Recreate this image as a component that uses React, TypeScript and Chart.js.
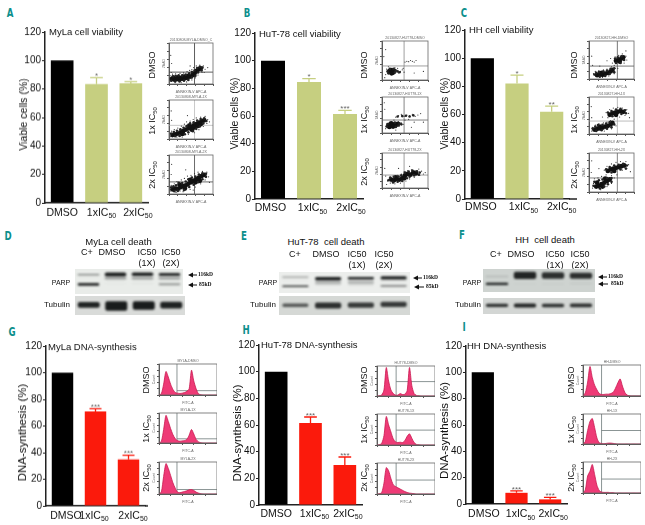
import React, { useEffect, useRef } from "react";
import { Chart, registerables } from "chart.js";
Chart.register(...registerables);

const SANS = '"Liberation Sans", Arial, sans-serif';

// ---------- bar chart data ----------
const treatments = ["DMSO", "1xIC", "2xIC"];
const treatmentSub = ["", "50", "50"];
const yTicks = [0, 20, 40, 60, 80, 100, 120];

const mylaViability = [100, 83.5, 84];
const mylaViabilityErr = [100, 88, 85.2];
const hutViability = [100, 84.5, 61.5];
const hutViabilityErr = [100, 87, 64];
const hhViability = [100, 82, 62];
const hhViabilityErr = [100, 88, 66];
const mylaSynthesis = [100, 71, 35];
const mylaSynthesisErr = [100, 73, 38];
const hutSynthesis = [100, 61.5, 30];
const hutSynthesisErr = [100, 66, 36];
const hhSynthesis = [100, 8.5, 3.5];
const hhSynthesisErr = [100, 10, 5];

const starsA = ["", "*", "*"];
const starsB = ["", "*", "***"];
const starsC = ["", "*", "**"];
const starsG = ["", "***", "***"];
const starsH = ["", "***", "***"];
const starsI = ["", "***", "***"];

// ---------- flow cytometry scatter data (percent of plot) ----------
type P = [number, number];
const a1Dense: P[] = [[6,12],[12,11],[18,12],[24,11],[30,13],[36,14],[42,15],[48,18],[54,22],[58,26],[63,32],[68,36],[72,38],[20,16],[34,18],[10,15],[27,15],[44,20]];
const a1Mid: P[] = [[5,8],[9,19],[15,20],[22,21],[30,21],[38,23],[46,26],[52,29],[58,33],[64,39],[70,42],[76,40],[74,33],[66,28],[60,20],[52,16],[44,10],[34,8],[24,6],[14,6]];
const a1Sparse: P[] = [[4,20],[8,24],[15,25],[25,26],[33,27],[41,30],[47,33],[52,35],[56,40],[62,44],[70,46],[78,44],[82,36],[75,28],[66,22],[60,15],[52,10],[40,5],[28,3],[14,3],[5,28],[6,50],[4,70],[48,44],[80,28],[88,40]];
const a2Dense: P[] = [[8,10],[14,12],[20,14],[26,17],[32,20],[38,24],[44,27],[50,31],[56,35],[62,38],[68,42],[74,45],[80,48],[58,30],[46,34],[66,34],[30,13],[52,24],[72,38]];
const a2Mid: P[] = [[5,14],[11,18],[18,21],[26,25],[33,29],[40,33],[48,40],[56,43],[64,47],[72,51],[80,53],[85,46],[78,40],[70,32],[62,26],[54,20],[44,17],[36,12],[24,8],[14,7]];
const a2Sparse: P[] = [[4,6],[6,20],[12,24],[20,28],[28,33],[35,38],[40,44],[48,46],[55,50],[62,54],[72,56],[82,58],[88,50],[86,40],[78,32],[68,24],[58,16],[44,12],[30,5],[18,5],[6,48],[5,72],[42,60],[26,8],[92,44]];
const a3Dense: P[] = [[8,12],[14,14],[20,13],[26,17],[32,20],[38,22],[44,26],[50,30],[56,34],[62,38],[68,42],[74,46],[80,49],[60,30],[48,36],[36,14],[70,34],[24,24]];
const a3Mid: P[] = [[5,17],[10,20],[16,22],[22,29],[30,28],[38,32],[44,38],[52,42],[60,45],[68,50],[76,53],[84,52],[84,44],[76,38],[66,30],[56,24],[46,18],[34,10],[20,8],[12,7]];
const a3Sparse: P[] = [[4,8],[5,22],[12,26],[18,32],[28,36],[35,40],[42,46],[50,48],[58,52],[66,56],[76,58],[86,56],[90,44],[82,36],[72,26],[60,18],[48,12],[32,6],[16,4],[5,50],[6,76],[38,62],[25,8],[55,10],[92,30]];
const b1Dense: P[] = [[18,20],[22,22],[20,25],[24,19],[16,23],[26,24],[21,17]];
const b1Mid: P[] = [[12,22],[14,17],[28,19],[30,24],[25,29],[17,29],[34,22],[38,20]];
const b1Sparse: P[] = [[8,14],[10,28],[12,18],[30,20],[33,25],[36,18],[40,22],[44,26],[48,20],[34,30],[28,32],[14,34],[50,46],[54,48],[58,47],[62,50],[66,48],[70,46],[74,50],[46,30],[6,6],[4,60],[8,78],[90,22],[70,18]];
const b2Dense: P[] = [[14,20],[18,24],[22,21],[26,24],[30,22],[20,27],[34,25],[16,17],[24,18]];
const b2Mid: P[] = [[10,18],[12,25],[28,29],[36,21],[38,27],[42,24],[30,17],[44,47],[52,48],[60,46],[68,49],[34,46]];
const b2Sparse: P[] = [[8,12],[10,24],[38,20],[42,28],[46,24],[36,32],[30,44],[36,48],[42,52],[48,46],[54,50],[60,48],[66,52],[72,46],[78,50],[84,54],[50,36],[58,38],[26,36],[6,66],[5,84],[70,30],[90,30],[64,16],[30,8]];
const b3Dense: P[] = [[20,24],[26,22],[32,26],[38,24],[44,28],[50,36],[56,40],[62,38],[68,44],[74,42],[30,30],[48,28]];
const b3Mid: P[] = [[14,22],[18,30],[26,32],[36,33],[42,36],[50,44],[58,47],[66,50],[76,48],[82,44],[80,38],[70,36],[60,32],[54,28],[44,20],[34,18],[24,16]];
const b3Sparse: P[] = [[12,20],[16,28],[24,34],[34,36],[42,40],[48,46],[56,50],[64,52],[72,50],[80,54],[86,48],[90,40],[82,36],[70,30],[60,26],[52,20],[40,14],[28,12],[18,14],[8,34],[6,56],[10,10],[36,56],[94,44],[60,62]];
const c1Dense: P[] = [[18,10],[24,12],[30,11],[36,14],[42,16],[48,20],[52,24],[28,16],[60,48],[66,50],[72,54],[76,57],[68,46]];
const c1Mid: P[] = [[12,12],[16,16],[22,18],[32,20],[40,22],[48,27],[56,28],[56,18],[46,13],[36,8],[24,6],[58,54],[64,57],[72,60],[78,50],[70,42],[60,42]];
const c1Sparse: P[] = [[10,14],[14,20],[22,22],[32,24],[40,26],[50,32],[56,36],[58,28],[52,42],[58,58],[66,62],[74,66],[82,60],[84,50],[78,42],[56,14],[44,8],[30,4],[8,36],[6,60],[40,48],[48,54],[24,34],[64,28],[82,74]];
const c2Dense: P[] = [[12,12],[18,14],[24,15],[30,17],[36,20],[42,22],[48,26],[52,30],[46,52],[52,56],[58,58],[64,60],[70,62],[76,60],[60,52],[24,20]];
const c2Mid: P[] = [[8,15],[14,20],[20,24],[30,25],[38,28],[46,32],[56,26],[50,18],[40,14],[28,10],[16,8],[42,58],[50,62],[60,66],[70,68],[80,64],[82,56],[72,54],[52,48]];
const c2Sparse: P[] = [[6,8],[8,18],[14,24],[22,28],[32,30],[40,32],[48,36],[56,40],[42,44],[38,58],[46,66],[54,70],[64,72],[74,70],[84,66],[88,56],[80,50],[68,46],[60,22],[50,14],[34,8],[6,44],[5,74],[30,46],[90,44]];
const c3Dense: P[] = [[16,14],[22,16],[28,20],[34,24],[40,28],[46,32],[18,24],[30,14],[42,54],[48,58],[54,60],[60,62],[66,64],[72,66],[78,68],[56,54],[36,34]];
const c3Mid: P[] = [[10,16],[12,26],[22,30],[30,32],[40,36],[50,36],[50,26],[42,20],[34,14],[24,9],[38,58],[46,64],[56,68],[66,70],[76,72],[84,68],[82,60],[70,58],[50,50]];
const c3Sparse: P[] = [[8,10],[10,22],[12,34],[20,36],[28,40],[38,44],[50,42],[56,36],[34,56],[40,66],[50,72],[60,76],[70,78],[82,78],[88,70],[84,60],[74,56],[62,44],[50,22],[40,14],[26,6],[5,50],[6,80],[22,60],[92,52]];

// gates: vertical x, horizontal y (percent)
const scatterGatesA: P[] = [[58,29],[58,35],[58,31]];
const scatterGatesB: P[] = [[48,36],[48,36],[48,37]];
const scatterGatesC: P[] = [[63,34],[63,35],[63,36]];

// ---------- DNA histograms (percent of plot height per bin) ----------
const bins = [0,4,8,12,16,20,24,28,32,36,40,44,48,52,56,60,64,68,72,76,80,84,88,92,96,100];
const g1Hist = [0,4,35,76,58,35,18,8,6,5,6,8,12,20,80,45,20,4,1,0,0,0,0,0,0,0];
const g2Hist = [0,5,45,92,72,48,28,14,8,6,7,8,12,26,45,30,12,4,1,0,0,0,0,0,0,0];
const g3Hist = [0,6,55,95,80,58,35,18,6,4,6,8,10,13,14,11,6,3,1,0,0,0,0,0,0,0];
const h1Hist = [0,1,3,20,95,50,20,8,3,3,8,5,6,18,95,35,8,2,1,0,0,0,0,0,0,0];
const h2Hist = [0,1,5,30,92,65,42,20,10,8,9,8,14,28,36,22,8,2,1,0,0,0,0,0,0,0];
const h3Hist = [0,1,4,35,85,75,50,30,24,20,16,12,8,5,3,2,1,0,0,0,0,0,0,0,0,0];
const i1Hist = [0,10,45,95,60,35,20,8,5,5,6,6,8,12,25,42,55,32,12,3,1,0,0,0,0,0];
const i2Hist = [0,8,45,75,85,55,20,4,2,1,2,3,3,2,1,0,0,0,0,0,0,0,0,0,0,0];
const i3Hist = [0,10,55,70,92,60,25,8,3,2,2,2,1,1,0,0,0,0,0,0,0,0,0,0,0,0];
const histGatesG: P[] = [[31,14],[31,14],[31,14]];
const histGatesH: P[] = [[33,48],[33,48],[33,45]];
const histGatesI: P[] = [[32,0],[32,45],[32,45]];

// ---------- western blot data (band edges, percent of image height) ----------
const lanes = ["C+", "DMSO", "IC50 (1X)", "IC50 (2X)"];
type B = [number, number];
const dUpper: B[] = [[20,25],[14,30],[14,28],[16,28]];
const dUpperAlpha = [0.55, 0.95, 0.95, 0.9];
const dSmear: B[] = [[34,36],[32,42],[32,42],[32,42]];
const dSmearAlpha = [0.05, 0.35, 0.35, 0.35];
const dLower: B[] = [[56,67],[58,60],[58,60],[57,65]];
const dLowerAlpha = [0.9, 0.06, 0.1, 0.4];
const dTub: B[] = [[32,62],[28,78],[28,72],[30,66]];
const dTubAlpha = [0.92, 0.95, 0.95, 0.92];
const eUpper: B[] = [[22,27],[24,40],[24,36],[20,36]];
const eUpperAlpha = [0.4, 0.95, 0.95, 0.95];
const eSmear: B[] = [[40,42],[42,60],[42,58],[42,46]];
const eSmearAlpha = [0.15, 0.25, 0.25, 0.1];
const eLower: B[] = [[64,72],[64,66],[64,67],[62,70]];
const eLowerAlpha = [0.85, 0.08, 0.12, 0.5];
const eTub: B[] = [[40,58],[34,66],[34,62],[30,58]];
const eTubAlpha = [0.65, 0.85, 0.8, 0.8];
const fUpper: B[] = [[30,34],[12,44],[14,42],[16,42]];
const fUpperAlpha = [0.25, 0.9, 0.85, 0.85];
const fLower: B[] = [[60,70],[64,66],[64,66],[62,65]];
const fLowerAlpha = [0.95, 0.06, 0.08, 0.1];
const fTub: B[] = [[36,56],[34,60],[36,58],[34,58]];
const fTubAlpha = [0.85, 0.9, 0.85, 0.85];

// ---------- generic canvas host ----------
function ChartBox({ left, top, width, height, config }: any) {
  const ref = useRef<HTMLCanvasElement>(null);
  useEffect(() => {
    const chart = new Chart(ref.current!, config());
    return () => chart.destroy();
  }, []);
  return (
    <canvas
      ref={ref}
      width={width}
      height={height}
      style={{ position: "absolute", left, top, width, height, display: "block" }}
    />
  );
}

// ---------- bar panels ----------
const OLIVE = "#c6cf80";
const RED = "#fb1a0c";
type BarSpec = {
  axisX: number; y0: number; y120: number; endX: number; extendTo?: number; barFrac: number;
  values: number[]; err: number[]; stars: string[]; color: string;
  title: string; titleX: number; titleY: number;
  yTitle: string; yTitleX: number; yTitleY: number; yTitleSize: number;
  labelY: number; labelShift: number[];
};
function BarPanel({ s }: { s: BarSpec }) {
  const W = 44, T = 8, X = 26, R = 24;
  const left = s.axisX - W;
  const top = s.y120 - T;
  const width = s.endX + R - left;
  const height = s.y0 + X - top;
  const config = () => ({
    type: "bar",
    data: {
      labels: treatments,
      datasets: [{
        data: s.values,
        backgroundColor: ["#000000", s.color, s.color],
        barPercentage: s.barFrac,
        categoryPercentage: 1,
      }],
    },
    options: {
      animation: false, responsive: false, devicePixelRatio: 1,
      layout: { padding: { top: T, left: 0, right: R, bottom: 0 } },
      plugins: { legend: { display: false }, tooltip: { enabled: false } },
      scales: {
        x: {
          grid: { display: false },
          border: { color: "#222", width: 1.5 },
          ticks: { display: false },
          afterFit: (sc: any) => { sc.height = X; },
        },
        y: {
          min: 0, max: 120,
          afterBuildTicks: (sc: any) => { sc.ticks = yTicks.map((v) => ({ value: v })); },
          grid: { drawOnChartArea: false, drawTicks: true, tickLength: 3, color: "#222" },
          border: { color: "#222", width: 1.5 },
          ticks: { color: "#111", padding: 1, font: { family: SANS, size: 10 } },
          afterFit: (sc: any) => { sc.width = W; },
        },
      },
    },
    plugins: [{
      id: "panelMarks",
      afterDatasetsDraw(chart: any) {
        const { ctx, scales } = chart;
        const meta = chart.getDatasetMeta(0);
        s.err.forEach((e, i) => {
          if (e <= s.values[i]) return;
          const x = scales.x.getPixelForValue(i);
          const yTop = scales.y.getPixelForValue(e);
          const yBar = scales.y.getPixelForValue(s.values[i]);
          const half = meta.data[i].width * 0.28;
          ctx.save();
          ctx.strokeStyle = s.color;
          ctx.lineWidth = 1.3;
          ctx.beginPath();
          ctx.moveTo(x, yBar); ctx.lineTo(x, yTop);
          ctx.moveTo(x - half, yTop); ctx.lineTo(x + half, yTop);
          ctx.stroke();
          ctx.fillStyle = "#666";
          ctx.font = `8px ${SANS}`;
          ctx.textAlign = "center";
          ctx.textBaseline = "middle";
          ctx.fillText(s.stars[i], x, yTop - 1.5);
          ctx.restore();
        });
      },
      afterDraw(chart: any) {
        const { ctx, scales, chartArea } = chart;
        ctx.save();
        if (s.extendTo) {
          ctx.strokeStyle = "#222";
          ctx.lineWidth = 1.5;
          ctx.beginPath();
          ctx.moveTo(chartArea.right, chartArea.bottom);
          ctx.lineTo(s.extendTo - left, chartArea.bottom);
          ctx.stroke();
        }
        ctx.fillStyle = "#111";
        ctx.textBaseline = "middle";
        ctx.font = `9.5px ${SANS}`;
        ctx.textAlign = "left";
        ctx.fillText(s.title, s.titleX - left, s.titleY - top);
        // category labels with subscripts
        treatments.forEach((t, i) => {
          const cx = scales.x.getPixelForValue(i) + s.labelShift[i];
          ctx.font = `10.5px ${SANS}`;
          const w1 = ctx.measureText(t).width;
          ctx.font = `7px ${SANS}`;
          const w2 = ctx.measureText(treatmentSub[i]).width;
          const x0 = cx - (w1 + w2) / 2;
          ctx.font = `10.5px ${SANS}`;
          ctx.textAlign = "left";
          ctx.fillText(t, x0, s.labelY - top);
          ctx.font = `7px ${SANS}`;
          ctx.fillText(treatmentSub[i], x0 + w1, s.labelY - top + 3.5);
        });
        ctx.translate(s.yTitleX - left, s.yTitleY - top);
        ctx.rotate(-Math.PI / 2);
        ctx.textAlign = "center";
        ctx.font = `${s.yTitleSize}px ${SANS}`;
        ctx.fillText(s.yTitle, 0, 0);
        ctx.restore();
      },
    }],
  });
  return <ChartBox left={left} top={top} width={width} height={height} config={config} />;
}

// ---------- small plots ----------
const framePlugin = (header: string, xLabel: string, yLabel: string) => ({
  id: "frame",
  afterDraw(chart: any) {
    const { ctx, chartArea: a } = chart;
    ctx.save();
    ctx.strokeStyle = "#666";
    ctx.lineWidth = 0.8;
    ctx.strokeRect(a.left, a.top, a.right - a.left, a.bottom - a.top);
    ctx.fillStyle = "#666";
    ctx.font = `3.5px ${SANS}`;
    ctx.textAlign = "center";
    ctx.textBaseline = "bottom";
    ctx.fillText(header, (a.left + a.right) / 2, a.top - 1);
    ctx.textBaseline = "top";
    ctx.fillText(xLabel, (a.left + a.right) / 2, a.bottom + 6);
    ctx.translate(a.left - 5, (a.top + a.bottom) / 2);
    ctx.rotate(-Math.PI / 2);
    ctx.textBaseline = "middle";
    ctx.fillText(yLabel, 0, 0);
    ctx.restore();
  },
});

const smallScales = () => ({
  x: {
    type: "linear", min: 0, max: 100,
    grid: { drawOnChartArea: false, drawTicks: true, tickLength: 2, color: "#555" },
    border: { color: "#555" },
    ticks: { display: false, stepSize: 20 },
    afterFit: (sc: any) => { sc.height = 12; },
  },
  y: {
    min: 0, max: 100,
    grid: { drawOnChartArea: false, drawTicks: true, tickLength: 2, color: "#555" },
    border: { color: "#555" },
    ticks: { display: false, stepSize: 20 },
    afterFit: (sc: any) => { sc.width = 8; },
  },
});

const toXY = (pts: P[]) => pts.map(([x, y]) => ({ x, y }));

function ScatterPlot({ x0, x1, y0, y1, dense, mid, sparse, gate, header, gateColor }: any) {
  const left = x0 - 8, top = y0 - 5;
  const config = () => ({
    type: "scatter",
    data: {
      datasets: [
        { data: toXY(sparse), pointRadius: 0.6, backgroundColor: "#333", borderWidth: 0 },
        { data: toXY(mid), pointRadius: 1.3, backgroundColor: "#222", borderWidth: 0 },
        { data: toXY(dense), pointRadius: 2.4, backgroundColor: "#111", borderWidth: 0 },
        { data: [{ x: gate[0], y: 0 }, { x: gate[0], y: 100 }], showLine: true, pointRadius: 0, borderColor: gateColor, borderWidth: 0.8 },
        { data: [{ x: 0, y: gate[1] }, { x: 100, y: gate[1] }], showLine: true, pointRadius: 0, borderColor: gateColor, borderWidth: 0.8 },
      ],
    },
    options: {
      animation: false, responsive: false, devicePixelRatio: 1,
      layout: { padding: { top: 5 } },
      plugins: { legend: { display: false }, tooltip: { enabled: false } },
      scales: smallScales(),
    },
    plugins: [framePlugin(header, "ANNEXIN-V APC-A", "7AAD")],
  });
  return <ChartBox left={left} top={top} width={x1 - left} height={y1 + 12 - top} config={config} />;
}

function HistPlot({ x0, x1, y0, y1, hist, gate, header }: any) {
  const left = x0 - 8, top = y0 - 5;
  const config = () => ({
    type: "scatter",
    data: {
      datasets: [
        {
          data: bins.map((b, i) => ({ x: b, y: hist[i] })),
          showLine: true, pointRadius: 0, tension: 0.25, fill: "origin",
          borderColor: "#c9184f", backgroundColor: "#ee3a76", borderWidth: 0.8,
        },
        { data: [{ x: gate[0], y: 0 }, { x: gate[0], y: 100 }], showLine: true, pointRadius: 0, borderColor: "#6d7a7a", borderWidth: 0.8 },
        { data: [{ x: gate[0], y: gate[1] }, { x: 100, y: gate[1] }], showLine: true, pointRadius: 0, borderColor: "#6d7a7a", borderWidth: 0.8 },
      ],
    },
    options: {
      animation: false, responsive: false, devicePixelRatio: 1,
      layout: { padding: { top: 5 } },
      plugins: { legend: { display: false }, tooltip: { enabled: false } },
      scales: smallScales(),
    },
    plugins: [framePlugin(header, "FITC-A", "Count")],
  });
  return <ChartBox left={left} top={top} width={x1 - left} height={y1 + 12 - top} config={config} />;
}

// ---------- blots ----------
function Blot({ x0, x1, y0, y1, bg, bands }: any) {
  const config = () => ({
    type: "bar",
    data: {
      labels: lanes,
      datasets: bands.map(([edges, alpha]: [B[], number[]]) => ({
        data: edges,
        backgroundColor: alpha.map((a) => `rgba(15,18,18,${a})`),
        barPercentage: 0.8,
        categoryPercentage: 1,
        grouped: false,
        borderSkipped: false,
        borderRadius: 2,
      })),
    },
    options: {
      animation: false, responsive: false, devicePixelRatio: 1,
      layout: { padding: 0 },
      plugins: { legend: { display: false }, tooltip: { enabled: false } },
      scales: {
        x: { display: false },
        y: { display: false, reverse: true, min: 0, max: 100 },
      },
    },
    plugins: [{
      id: "gel",
      beforeDraw(chart: any) {
        chart.ctx.save();
        chart.ctx.fillStyle = bg;
        chart.ctx.fillRect(0, 0, chart.width, chart.height);
        chart.ctx.restore();
      },
      beforeDatasetsDraw(chart: any) { chart.ctx.filter = "blur(0.9px)"; },
      afterDatasetsDraw(chart: any) { chart.ctx.filter = "none"; },
    }],
  });
  return <ChartBox left={x0} top={y0} width={x1 - x0} height={y1 - y0} config={config} />;
}

// ---------- text helpers ----------
function T({ x, y, size = 9, color = "#111", family = SANS, weight = 400, rotate = false, align = "center", children }: any) {
  const tx = align === "center" ? "-50%" : align === "right" ? "-100%" : "0";
  return (
    <div style={{
      position: "absolute", left: x, top: y, whiteSpace: "nowrap", lineHeight: 1,
      fontFamily: family, fontSize: size, color, fontWeight: weight,
      transform: `translate(${tx},-50%)${rotate ? " rotate(-90deg)" : ""}`,
    }}>{children}</div>
  );
}
const Sub = ({ children }: any) => (
  <span style={{ fontSize: "0.65em", position: "relative", top: "0.3em" }}>{children}</span>
);
function Letter({ x, y, c }: any) {
  return (
    <div style={{
      position: "absolute", left: x, top: y, lineHeight: 1, fontFamily: '"DejaVu Sans", sans-serif',
      fontWeight: 700, fontSize: 12, color: "#0d8f8c",
      transform: "translate(-50%,-50%) scaleX(0.72)",
    }}>{c}</div>
  );
}
function Arrow({ x0, x1, y }: any) {
  return (
    <svg style={{ position: "absolute", left: x0, top: y - 3 }} width={x1 - x0} height={6}>
      <path d={`M0 3 L5 0.5 L5 2.4 L${x1 - x0} 2.4 L${x1 - x0} 3.6 L5 3.6 L5 5.5 Z`} fill="#111" />
    </svg>
  );
}
const KD = ({ x, y, children }: any) => (
  <T x={x} y={y} size={5.5} weight={700} align="left" family='"Liberation Serif", serif'>{children}</T>
);
function FlowLabels({ x, ys }: { x: number; ys: number[] }) {
  return (
    <>
      <T x={x} y={ys[0]} size={9} rotate>DMSO</T>
      <T x={x} y={ys[1]} size={9} rotate>1x IC<Sub>50</Sub></T>
      <T x={x} y={ys[2]} size={9} rotate>2x IC<Sub>50</Sub></T>
    </>
  );
}

const VIA = "Viable cells (%)";
const DNA = "DNA-synthesis (%)";

export default function App() {
  useEffect(() => { document.body.style.margin = "0"; document.body.style.background = "#fff"; }, []);
  return (
    <div style={{ position: "fixed", left: 0, top: 0, width: 645, height: 525, overflow: "hidden", background: "#fff" }}>
      <Letter x={10} y={13} c="A" /><Letter x={247} y={13} c="B" /><Letter x={464} y={13} c="C" />
      <Letter x={8} y={236} c="D" /><Letter x={244} y={236} c="E" /><Letter x={462} y={235} c="F" />
      <Letter x={12} y={332} c="G" /><Letter x={246} y={330} c="H" /><Letter x={464} y={327} c="I" />

      <BarPanel s={{ axisX: 45, y0: 202.5, y120: 32, endX: 148, barFrac: 0.66, labelShift: [0, 5, 7], values: mylaViability, err: mylaViabilityErr, stars: starsA, color: OLIVE, title: "MyLa cell viability", titleX: 49, titleY: 32, yTitle: VIA, yTitleSize: 10.5, yTitleX: 24, yTitleY: 114, labelY: 212 }} />
      <BarPanel s={{ axisX: 255, y0: 199, y120: 32.5, endX: 363, barFrac: 0.667, labelShift: [-2.5, 3.5, 6], values: hutViability, err: hutViabilityErr, stars: starsB, color: OLIVE, title: "HuT-78 cell viability", titleX: 259, titleY: 34, yTitle: VIA, yTitleSize: 10.5, yTitleX: 235, yTitleY: 113, labelY: 208 }} />
      <BarPanel s={{ axisX: 465, y0: 199, y120: 29.5, endX: 569, extendTo: 577, barFrac: 0.67, labelShift: [-1.5, 6.5, 10], values: hhViability, err: hhViabilityErr, stars: starsC, color: OLIVE, title: "HH cell viability", titleX: 469, titleY: 30, yTitle: VIA, yTitleSize: 10.5, yTitleX: 445, yTitleY: 113, labelY: 207 }} />
      <BarPanel s={{ axisX: 46, y0: 505.5, y120: 346, endX: 145, extendTo: 148, barFrac: 0.65, labelShift: [3.5, -1.5, 4.5], values: mylaSynthesis, err: mylaSynthesisErr, stars: starsG, color: RED, title: "MyLa DNA-synthesis", titleX: 48, titleY: 347, yTitle: DNA, yTitleSize: 11.5, yTitleX: 23, yTitleY: 432, labelY: 515 }} />
      <BarPanel s={{ axisX: 259, y0: 505, y120: 345, endX: 362, barFrac: 0.66, labelShift: [0, 4, 3], values: hutSynthesis, err: hutSynthesisErr, stars: starsH, color: RED, title: "HuT-78 DNA-synthesis", titleX: 261, titleY: 345.5, yTitle: DNA, yTitleSize: 11.5, yTitleX: 238, yTitleY: 433, labelY: 514 }} />
      <BarPanel s={{ axisX: 466, y0: 504, y120: 345.5, endX: 567, barFrac: 0.66, labelShift: [1, 4, 3], values: hhSynthesis, err: hhSynthesisErr, stars: starsI, color: RED, title: "HH DNA-synthesis", titleX: 467, titleY: 345.5, yTitle: DNA, yTitleSize: 11.5, yTitleX: 445, yTitleY: 430, labelY: 514 }} />

      {/* flow cytometry */}
      <FlowLabels x={152} ys={[65, 121, 175]} />
      <ScatterPlot x0={169} x1={217} y0={43} y1={84} dense={a1Dense} mid={a1Mid} sparse={a1Sparse} gate={scatterGatesA[0]} gateColor="#333" header="20130808-MYLA-DMSO_C" />
      <ScatterPlot x0={169} x1={217} y0={100} y1={139} dense={a2Dense} mid={a2Mid} sparse={a2Sparse} gate={scatterGatesA[1]} gateColor="#bbb" header="20130808-MYLA-1X" />
      <ScatterPlot x0={169} x1={217} y0={155} y1={194} dense={a3Dense} mid={a3Mid} sparse={a3Sparse} gate={scatterGatesA[2]} gateColor="#444" header="20130808-MYLA-2X" />
      <FlowLabels x={364} ys={[65, 120, 172]} />
      <ScatterPlot x0={382} x1={432} y0={41} y1={80} dense={b1Dense} mid={b1Mid} sparse={b1Sparse} gate={scatterGatesB[0]} gateColor="#888" header="20130827-HUT78-DMSO" />
      <ScatterPlot x0={382} x1={432} y0={97} y1={133} dense={b2Dense} mid={b2Mid} sparse={b2Sparse} gate={scatterGatesB[1]} gateColor="#666" header="20130827-HUT78-1X" />
      <ScatterPlot x0={382} x1={432} y0={153} y1={188} dense={b3Dense} mid={b3Mid} sparse={b3Sparse} gate={scatterGatesB[2]} gateColor="#888" header="20130827-HUT78-2X" />
      <FlowLabels x={574} ys={[65, 120, 175]} />
      <ScatterPlot x0={589} x1={638} y0={41} y1={79} dense={c1Dense} mid={c1Mid} sparse={c1Sparse} gate={scatterGatesC[0]} gateColor="#555" header="20130827-HH-DMSO" />
      <ScatterPlot x0={589} x1={638} y0={97} y1={134} dense={c2Dense} mid={c2Mid} sparse={c2Sparse} gate={scatterGatesC[1]} gateColor="#aaa" header="20130827-HH-1X" />
      <ScatterPlot x0={589} x1={638} y0={153} y1={192} dense={c3Dense} mid={c3Mid} sparse={c3Sparse} gate={scatterGatesC[2]} gateColor="#666" header="20130827-HH-2X" />

      {/* histograms */}
      <FlowLabels x={146} ys={[380, 429, 478]} />
      <HistPlot x0={159} x1={217} y0={364} y1={395} hist={g1Hist} gate={histGatesG[0]} header="MYLA-DMSO" />
      <HistPlot x0={159} x1={217} y0={413} y1={443} hist={g2Hist} gate={histGatesG[1]} header="MYLA-1X" />
      <HistPlot x0={159} x1={217} y0={462} y1={494} hist={g3Hist} gate={histGatesG[2]} header="MYLA-2X" />
      <FlowLabels x={364} ys={[380, 430, 478]} />
      <HistPlot x0={377} x1={435} y0={366} y1={396} hist={h1Hist} gate={histGatesH[0]} header="HUT78-DMSO" />
      <HistPlot x0={377} x1={435} y0={414} y1={445} hist={h2Hist} gate={histGatesH[1]} header="HUT78-1X" />
      <HistPlot x0={377} x1={435} y0={463} y1={494} hist={h3Hist} gate={histGatesH[2]} header="HUT78-2X" />
      <FlowLabels x={571} ys={[380, 430, 478]} />
      <HistPlot x0={583} x1={641} y0={365} y1={396} hist={i1Hist} gate={histGatesI[0]} header="HH-DMSO" />
      <HistPlot x0={583} x1={641} y0={414} y1={444} hist={i2Hist} gate={histGatesI[1]} header="HH-1X" />
      <HistPlot x0={583} x1={641} y0={462} y1={493} hist={i3Hist} gate={histGatesI[2]} header="HH-2X" />

      {/* blot D */}
      <T x={118.5} y={242} size={9.5}>MyLa cell death</T>
      <T x={87} y={252}>C+</T><T x={112} y={252}>DMSO</T><T x={147} y={252}>IC50</T><T x={171} y={252}>IC50</T>
      <T x={147} y={263}>(1X)</T><T x={171} y={263}>(2X)</T>
      <T x={61} y={282} size={7}>PARP</T><T x={57} y={305} size={8}>Tubulin</T>
      <Blot x0={75} x1={183} y0={269} y1={294} bg="#e9ece9" bands={[[dUpper, dUpperAlpha], [dSmear, dSmearAlpha], [dLower, dLowerAlpha]]} />
      <Blot x0={75} x1={185} y0={296} y1={315} bg="#d9dbd9" bands={[[dTub, dTubAlpha]]} />
      <Arrow x0={188} x1={197} y={275} /><KD x={198} y={275}>116kD</KD>
      <Arrow x0={188} x1={197} y={285} /><KD x={199} y={285}>85kD</KD>

      {/* blot E */}
      <T x={326} y={242} size={9.5}>HuT-78&nbsp; cell death</T>
      <T x={295} y={254}>C+</T><T x={326} y={254}>DMSO</T><T x={357} y={254}>IC50</T><T x={384} y={254}>IC50</T>
      <T x={357} y={265}>(1X)</T><T x={384} y={265}>(2X)</T>
      <T x={268} y={282} size={7}>PARP</T><T x={263} y={305} size={8}>Tubulin</T>
      <Blot x0={279} x1={410} y0={272} y1={293} bg="#eceeec" bands={[[eUpper, eUpperAlpha], [eSmear, eSmearAlpha], [eLower, eLowerAlpha]]} />
      <Blot x0={279} x1={410} y0={296} y1={315} bg="#d5d8d5" bands={[[eTub, eTubAlpha]]} />
      <Arrow x0={413} x1={422} y={278} /><KD x={423} y={278}>116kD</KD>
      <Arrow x0={414} x1={424} y={287} /><KD x={426} y={287}>85kD</KD>

      {/* blot F */}
      <T x={545} y={240} size={9.5}>HH&nbsp; cell death</T>
      <T x={496} y={254}>C+</T><T x={521} y={254}>DMSO</T><T x={555} y={254}>IC50</T><T x={580} y={254}>IC50</T>
      <T x={555} y={265}>(1X)</T><T x={580} y={265}>(2X)</T>
      <T x={472} y={282} size={7}>PARP</T><T x={468} y={305} size={8}>Tubulin</T>
      <Blot x0={483} x1={595} y0={269} y1={292} bg="#ced3d0" bands={[[fUpper, fUpperAlpha], [fLower, fLowerAlpha]]} />
      <Blot x0={483} x1={595} y0={298} y1={314} bg="#d3d6d4" bands={[[fTub, fTubAlpha]]} />
      <Arrow x0={598} x1={607} y={277} /><KD x={608} y={277}>116kD</KD>
      <Arrow x0={598} x1={608} y={284} /><KD x={611} y={284}>85kD</KD>
    </div>
  );
}
